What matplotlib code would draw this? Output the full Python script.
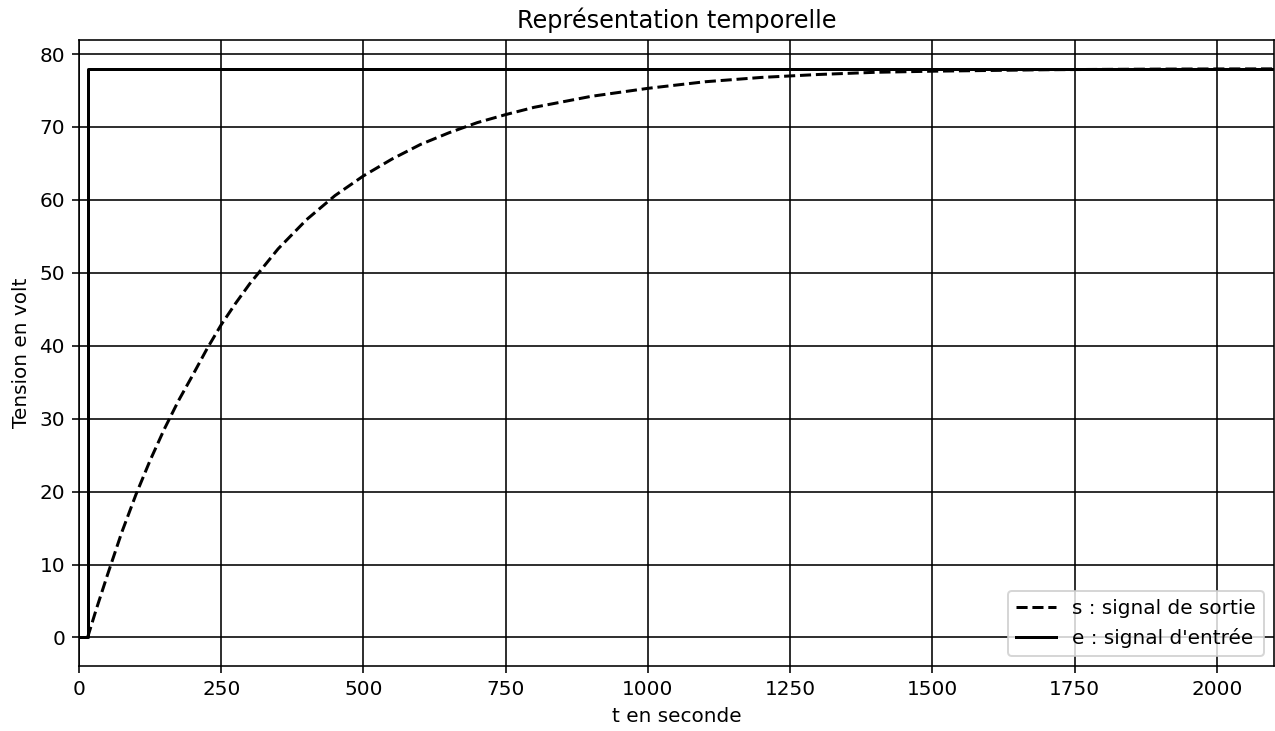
import matplotlib
matplotlib.use("Agg")
import matplotlib.pyplot as plt

# Output signal s(t)
t_s = [15, 30, 50, 75, 100, 125, 150, 175, 200, 225, 250, 275, 300, 350, 400, 450, 500,
       550, 600, 650, 700, 750, 800, 900, 1000, 1100, 1200, 1300, 1400, 1500,
       1600, 1700, 1800, 1900, 2000, 2100]
s_vals = [0, 3.8, 8.6, 14.4, 19.6, 24.3, 28.6, 32.5, 36.0, 39.6, 42.9, 45.8, 48.5, 53.3,
          57.3, 60.6, 63.3, 65.6, 67.6, 69.2, 70.6, 71.7, 72.7, 74.2, 75.3, 76.2,
          76.8, 77.2, 77.5, 77.65, 77.75, 77.85, 77.9, 77.94, 77.96, 77.97]

# Input step e(t)
t_e = [0, 15, 15, 2100]
e_vals = [0, 0, 78, 78]

xticks = [0, 250, 500, 750, 1000, 1250, 1500, 1750, 2000]
yticks = [0, 10, 20, 30, 40, 50, 60, 70, 80]

DPI = 144
fig = plt.figure(figsize=(1275 / DPI, 731 / DPI), dpi=DPI)
ax = fig.add_axes([0.062, 0.089, 0.937, 0.856])

ax.plot(t_s, s_vals, color="black", linestyle="--", linewidth=1.5, label="s : signal de sortie")
ax.plot(t_e, e_vals, color="black", linestyle="-", linewidth=1.5, label="e : signal d'entrée")

ax.set_xlim(0, 2100)
ax.set_ylim(-3.9, 81.9)
ax.set_xticks(xticks)
ax.set_yticks(yticks)
ax.grid(True, color="black", linewidth=0.8)

ax.set_title("Représentation temporelle")
ax.set_xlabel("t en seconde")
ax.set_ylabel("Tension en volt")
ax.legend(loc="lower right")

fig.savefig("out.png", dpi=DPI)
